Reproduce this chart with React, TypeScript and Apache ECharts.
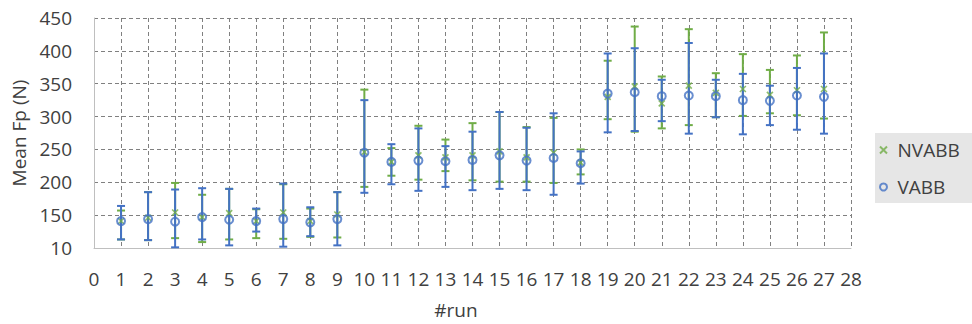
import React, { useEffect, useRef } from "react";
import * as echarts from "echarts";

const runs = [1, 2, 3, 4, 5, 6, 7, 8, 9, 10, 11, 12, 13, 14, 15, 16, 17, 18, 19, 20, 21, 22, 23, 24, 25, 26, 27];

const nvabbMean = [141, 146, 154, 147, 153, 141, 154, 141, 151, 246, 231, 241, 238, 241, 247, 238, 245, 230, 330, 346, 320, 347, 336, 342, 333, 340, 342];
const nvabbLow = [113, 112, 115, 109, 113, 115, 114, 117, 116, 193, 210, 204, 217, 203, 201, 201, 199, 212, 296, 277, 282, 287, 299, 301, 305, 302, 297];
const nvabbHigh = [157, 185, 199, 181, 190, 159, 197, 160, 185, 341, 252, 286, 265, 290, 307, 284, 298, 250, 385, 437, 361, 433, 366, 395, 371, 393, 428];

const vabbMean = [141, 144, 140, 147, 143, 141, 144, 139, 144, 245, 231, 233, 232, 234, 241, 233, 237, 229, 335, 337, 331, 332, 331, 325, 324, 332, 330];
const vabbLow = [113, 112, 101, 113, 104, 125, 102, 118, 104, 184, 197, 187, 193, 188, 190, 188, 181, 198, 276, 278, 293, 274, 299, 273, 287, 280, 274];
const vabbHigh = [164, 185, 189, 191, 190, 160, 198, 162, 185, 325, 258, 282, 255, 277, 307, 283, 305, 247, 396, 404, 356, 412, 356, 365, 347, 374, 396];

const seriesNames = ["NVABB", "VABB"];
const xAxisName = "#run";
const yAxisName = "Mean Fp (N)";

const GREEN = "#70AD47";
const BLUE = "#4472C4";
const TEXT = "#404040";
const FONT = "'Open Sans', 'Noto Sans', sans-serif";
const X_ICON = "path://M0,0L10,10M10,0L0,10";

function errorBar(color: string) {
  return (params: any, api: any) => {
    const x = api.value(0);
    const lo = api.value(1);
    const hi = api.value(2);
    const top = api.coord([x, hi]);
    const bot = api.coord([x, lo]);
    const hw = 4;
    const style = { stroke: color, lineWidth: 2 };
    return {
      type: "group",
      children: [
        { type: "line", shape: { x1: top[0], y1: top[1], x2: bot[0], y2: bot[1] }, style },
        { type: "line", shape: { x1: top[0] - hw, y1: top[1], x2: top[0] + hw, y2: top[1] }, style },
        { type: "line", shape: { x1: bot[0] - hw, y1: bot[1], x2: bot[0] + hw, y2: bot[1] }, style },
      ],
    };
  };
}

export default function App() {
  const ref = useRef<HTMLDivElement>(null);
  useEffect(() => {
    if (!ref.current) return;
    const chart = echarts.init(ref.current, undefined, { renderer: "svg" });
    const nvErr = runs.map((r, i) => [r, nvabbLow[i], nvabbHigh[i]]);
    const vErr = runs.map((r, i) => [r, vabbLow[i], vabbHigh[i]]);
    const nvPts = runs.map((r, i) => [r, nvabbMean[i]]);
    const vPts = runs.map((r, i) => [r, vabbMean[i]]);
    const splitStyle = { show: true, lineStyle: { color: "#808080", type: [4, 3] as any, width: 1 } };
    chart.setOption({
      animation: false,
      backgroundColor: "#ffffff",
      textStyle: { fontFamily: FONT },
      grid: { left: 94, right: 121, top: 18, bottom: 76 },
      xAxis: {
        type: "value",
        min: 0,
        max: 28,
        interval: 1,
        name: xAxisName,
        nameLocation: "middle",
        nameGap: 52,
        nameTextStyle: { fontSize: 19, color: TEXT, fontFamily: FONT, padding: [0, 33, 0, 0] },
        axisLine: { show: true, lineStyle: { color: "#bfbfbf", width: 1 } },
        axisTick: { show: false },
        axisLabel: { fontSize: 19, color: TEXT, fontFamily: FONT, margin: 21 },
        splitLine: splitStyle,
      },
      yAxis: {
        type: "value",
        min: 100,
        max: 450,
        interval: 50,
        name: yAxisName,
        nameLocation: "middle",
        nameGap: 58,
        nameTextStyle: { fontSize: 19, color: TEXT, fontFamily: FONT },
        axisLine: { show: true, lineStyle: { color: "#bfbfbf", width: 1 } },
        axisTick: { show: false },
        axisLabel: {
          fontSize: 19,
          color: TEXT,
          fontFamily: FONT,
          margin: 22,
          formatter: (v: number) => (v === 100 ? "10" : String(v)),
        },
        splitLine: splitStyle,
      },
      legend: {
        orient: "vertical",
        left: 875,
        top: 133,
        backgroundColor: "#e6e6e6",
        padding: [7, 20, 6, 4],
        itemWidth: 18,
        itemHeight: 7,
        itemGap: 17,
        textStyle: { fontSize: 19, color: TEXT, fontFamily: FONT, lineHeight: 20 },
        data: [
          { name: seriesNames[0], icon: X_ICON },
          { name: seriesNames[1], icon: "circle" },
        ],
      },
      series: [
        {
          type: "custom",
          name: seriesNames[0] + " error",
          renderItem: errorBar(GREEN),
          encode: { x: 0, y: [1, 2] },
          data: nvErr,
          z: 1,
        },
        {
          type: "custom",
          name: seriesNames[1] + " error",
          renderItem: errorBar(BLUE),
          encode: { x: 0, y: [1, 2] },
          data: vErr,
          z: 2,
        },
        {
          type: "scatter",
          name: seriesNames[0],
          symbol: X_ICON,
          symbolSize: 6,
          itemStyle: { color: "rgba(0,0,0,0)", borderColor: GREEN, borderWidth: 1.6 },
          data: nvPts,
          z: 3,
        },
        {
          type: "scatter",
          name: seriesNames[1],
          symbol: "circle",
          symbolSize: 8,
          itemStyle: { color: "rgba(0,0,0,0)", borderColor: BLUE, borderWidth: 2 },
          data: vPts,
          z: 4,
        },
      ],
    });
    return () => chart.dispose();
  }, []);
  return <div ref={ref} style={{ width: 972, height: 324, position: "absolute", left: 0, top: 0 }} />;
}
